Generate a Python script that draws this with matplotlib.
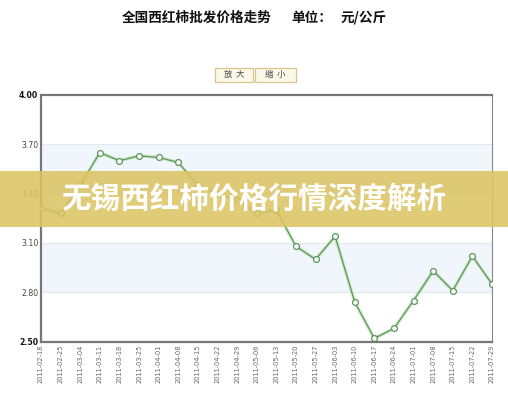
import numpy as np
import matplotlib
matplotlib.use('Agg')
import matplotlib.pyplot as plt
from matplotlib.patches import Rectangle

plt.rcParams['font.family'] = ['Noto Sans CJK SC', 'DejaVu Sans']

# weekly wholesale price, yuan/kg
dates = ['2011-02-18', '2011-02-25', '2011-03-04', '2011-03-11', '2011-03-18',
         '2011-03-25', '2011-04-01', '2011-04-08', '2011-04-15', '2011-04-22',
         '2011-04-29', '2011-05-06', '2011-05-13', '2011-05-20', '2011-05-27',
         '2011-06-03', '2011-06-10', '2011-06-17', '2011-06-24', '2011-07-01',
         '2011-07-08', '2011-07-15', '2011-07-22', '2011-07-29']
prices = [3.31, 3.28, 3.45, 3.65, 3.60, 3.63, 3.62, 3.59, 3.45, 3.40,
          3.36, 3.28, 3.30, 3.08, 3.00, 3.14, 2.74, 2.52, 2.58, 2.75,
          2.93, 2.81, 3.02, 2.85]
yticks = [2.50, 2.80, 3.10, 3.40, 3.70, 4.00]

title = '全国西红柿批发价格走势'
unit_lbl = '单位：'
unit = '元/公斤'
buttons = ['放  大', '缩  小']
banner = '无锡西红柿价格行情深度解析'

W, H = 508, 400
fig = plt.figure(figsize=(W / 100, H / 100), dpi=100)
fig.patch.set_facecolor('white')

def fx(px):
    return px / W

def fy(py):
    return 1 - py / H

ax = fig.add_axes([fx(41), fy(341.6), fx(492) - fx(41), fy(95) - fy(341.6)])
x = np.arange(len(dates))
ax.set_xlim(0, len(dates) - 1)
ax.set_ylim(yticks[0], yticks[-1])

# alternating bands + grid
for i in range(len(yticks) - 1):
    if i % 2 == 1:
        ax.axhspan(yticks[i], yticks[i + 1], color='#f1f6fc', zorder=0, lw=0)
for v in yticks[1:-1]:
    ax.axhline(v, color='#e2e8f0', lw=0.8, zorder=1)

ax.plot(x, prices, color='#b8e0aa', lw=2.6, alpha=0.6, zorder=2,
        solid_capstyle='round')
ax.plot(x, prices, color='#5a955a', lw=0.9, zorder=3, marker='o', ms=4.2,
        mfc='white', mec='#5a955a', mew=0.9)

ax.set_yticks(yticks)
ylabels = ['%.2f' % v for v in yticks]
ax.set_yticklabels(ylabels, fontsize=5.6, color='#444444', family='DejaVu Sans')
for t in ax.get_yticklabels():
    if t.get_text() in ('2.50', '4.00'):
        t.set_fontweight('bold')
        t.set_color('#111111')
ax.set_xticks(x)
ax.set_xticklabels(dates, rotation=90, fontsize=4.8, color='#666666',
                   family='DejaVu Sans')
ax.tick_params(axis='both', length=0, pad=2)

for s in ('left', 'bottom', 'top'):
    ax.spines[s].set_color('#777777')
    ax.spines[s].set_linewidth(1.6)
ax.spines['right'].set_color('#888888')
ax.spines['right'].set_linewidth(0.8)

# header
fig.text(fx(122), fy(18), title, fontsize=9.8, fontweight='bold',
         color='#111111', va='center', ha='left')
fig.text(fx(291), fy(18), unit_lbl, fontsize=9.8, fontweight='bold',
         color='#111111', va='center', ha='left')
fig.text(fx(341), fy(18), unit, fontsize=9.8, fontweight='bold',
         color='#111111', va='center', ha='left')

# zoom buttons
for (x0, x1), lbl in zip([(215, 253), (255, 296)], buttons):
    fig.patches.append(Rectangle((fx(x0), fy(81.5)), fx(x1) - fx(x0),
                                 fy(68) - fy(81.5), transform=fig.transFigure,
                                 facecolor='#fdf9e8', edgecolor='#d6c58c',
                                 lw=0.9))
    fig.text(fx((x0 + x1) / 2), fy(74.5), lbl, fontsize=6, color='#444444',
             ha='center', va='center')

# overlay banner
fig.patches.append(Rectangle((0, fy(227)), 1, fy(171) - fy(227),
                             transform=fig.transFigure, facecolor='#dcc464',
                             alpha=0.88, lw=0, zorder=10))
fig.text(fx(254), fy(199), banner, fontsize=21.3, fontweight='bold',
         color='white', ha='center', va='center', zorder=11)

fig.savefig('out.png', dpi=100)
